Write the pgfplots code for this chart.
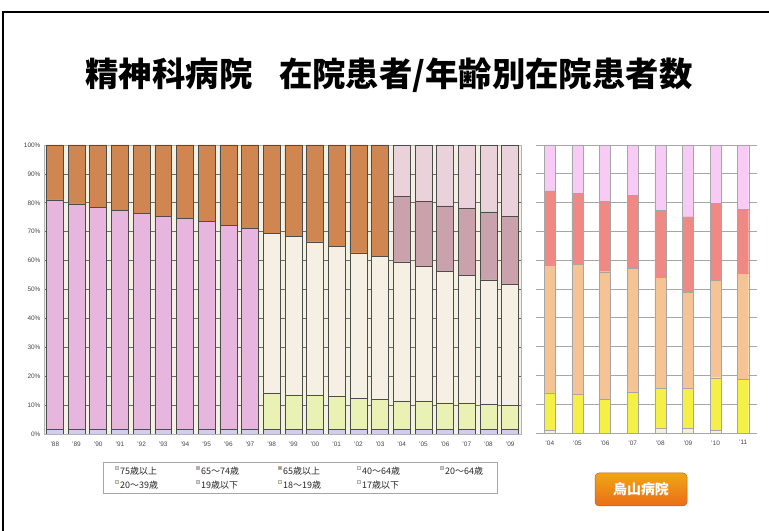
\documentclass[border=0pt]{standalone}
\usepackage{pgfplots}
\pgfplotsset{compat=1.18}
\usepackage{pgfplotstable}
\usepackage{fontspec}
\setmainfont{Liberation Sans}
\newfontfamily\jp{Noto Sans CJK JP}
\definecolor{cPink}{HTML}{E6B6DE}
\definecolor{cLav}{HTML}{D4CCEC}
\definecolor{cGreen}{HTML}{E9F2B4}
\definecolor{cCream}{HTML}{F6EFE4}
\definecolor{cOrange}{HTML}{D08650}
\definecolor{cMauve}{HTML}{C9A2AC}
\definecolor{cLPink}{HTML}{EAD2DA}
\definecolor{cBg}{HTML}{F3F1E2}
\definecolor{rStrip}{HTML}{F4F0D8}
\definecolor{rYellow}{HTML}{F4F046}
\definecolor{rPeach}{HTML}{F6C494}
\definecolor{rRed}{HTML}{F08884}
\definecolor{rPink}{HTML}{F8CAF6}
\definecolor{btn}{HTML}{E8801E}
\definecolor{tickc}{HTML}{454545}

\pgfplotstableread{
x s19 p2064 g2039 c4064 o65 m6574 l75
0 1.5 79.5 0 0 19.0 0 0
1 1.5 78.1 0 0 20.4 0 0
2 1.5 76.9 0 0 21.6 0 0
3 1.5 76.0 0 0 22.5 0 0
4 1.5 74.8 0 0 23.7 0 0
5 1.5 73.9 0 0 24.6 0 0
6 1.5 73.1 0 0 25.4 0 0
7 1.5 72.0 0 0 26.5 0 0
8 1.5 70.8 0 0 27.7 0 0
9 1.5 69.7 0 0 28.8 0 0
10 1.5 0 12.7 55.3 30.5 0 0
11 1.5 0 12.0 54.8 31.7 0 0
12 1.5 0 11.8 53.2 33.5 0 0
13 1.5 0 11.4 51.9 35.2 0 0
14 1.5 0 10.8 50.4 37.3 0 0
15 1.5 0 10.5 49.4 38.6 0 0
16 1.5 0 10.0 48.1 0 22.5 17.9
17 1.5 0 9.7 46.9 0 22.3 19.6
18 1.5 0 9.3 45.4 0 22.7 21.1
19 1.5 0 9.1 44.4 0 23.1 21.9
20 1.5 0 8.9 42.9 0 23.6 23.1
21 1.5 0 8.5 41.9 0 23.5 24.6
}\lefttable

\pgfplotstableread{
x strip yellow peach red pink
0 1.0 12.9 44.4 25.8 15.9
1 0.0 13.3 45.3 24.6 16.8
2 0.0 11.8 44.2 24.5 19.5
3 0.0 14.3 42.8 25.3 17.6
4 1.5 13.9 38.6 23.4 22.6
5 1.5 13.9 33.5 26.2 24.9
6 1.0 18.2 33.9 26.6 20.3
7 0.0 18.6 36.8 22.3 22.3
}\righttable

\begin{document}
\begin{tikzpicture}
\path[use as bounding box] (0,0) rectangle (769bp,531bp);
\draw[line width=1.3bp] (3bp,0) -- (3bp,519bp) -- (769bp,519bp);
\node[font=\jp\bfseries\fontsize{33.5}{36}\selectfont, anchor=center] at (389bp,456bp) {精神科病院\hspace{0.8em}在院患者/年齢別在院患者数};

\begin{axis}[
  at={(44bp,97bp)}, anchor=south west,
  scale only axis, width=477bp, height=289bp,
  xmin=-0.5, xmax=21.5, ymin=0, ymax=100,
  ybar stacked, bar width=0.78,
  axis background/.style={fill=cBg},
  axis line style={draw=gray!60},
  xtick={0,...,21},
  xticklabels={'88,'89,'90,'91,'92,'93,'94,'95,'96,'97,'98,'99,'00,'01,'02,'03,'04,'05,'06,'07,'08,'09},
  ytick={0,10,...,100},
  yticklabel={\pgfmathprintnumber{\tick}\%},
  /pgf/number format/assume math mode=true,
  tick label style={font=\fontsize{6.5}{7.5}\selectfont, text=tickc},
  xticklabel style={yshift=-4bp},
  major tick length=0pt,
  ymajorgrids, grid style={draw=gray!85!black, line width=0.6bp},
  every axis plot/.append style={draw=gray!60!black, line width=0.5bp},
]
\addplot[fill=cLav] table[x=x,y=s19] {\lefttable};
\addplot[fill=cPink] table[x=x,y=p2064] {\lefttable};
\addplot[fill=cGreen] table[x=x,y=g2039] {\lefttable};
\addplot[fill=cCream] table[x=x,y=c4064] {\lefttable};
\addplot[fill=cOrange] table[x=x,y=o65] {\lefttable};
\addplot[fill=cMauve] table[x=x,y=m6574] {\lefttable};
\addplot[fill=cLPink] table[x=x,y=l75] {\lefttable};
\end{axis}

\begin{axis}[
  at={(536bp,98bp)}, anchor=south west,
  scale only axis, width=221bp, height=288bp,
  xmin=-0.5, xmax=7.5, ymin=0, ymax=100,
  ybar stacked, bar width=0.4,
  axis line style={draw=none},
  xtick={0,...,7},
  xticklabels={'04,'05,'06,'07,'08,'09,'10,'11},
  ytick={0,10,...,100}, yticklabels={},
  tick label style={font=\fontsize{6.5}{7.5}\selectfont, text=tickc},
  xticklabel style={yshift=-4bp},
  major tick length=0pt,
  ymajorgrids, grid style={draw=gray!70, line width=0.7bp},
  every axis plot/.append style={draw=gray!70, line width=0.4bp},
]
\addplot[fill=rStrip] table[x=x,y=strip] {\righttable};
\addplot[fill=rYellow] table[x=x,y=yellow] {\righttable};
\addplot[fill=rPeach] table[x=x,y=peach] {\righttable};
\addplot[fill=rRed] table[x=x,y=red] {\righttable};
\addplot[fill=rPink] table[x=x,y=pink] {\righttable};
\end{axis}

% legend
\draw[gray!70, line width=0.8bp] (103bp,38bp) rectangle (497bp,69bp);
\begin{scope}[every node/.style={font=\jp\fontsize{9}{10}\selectfont, anchor=west, inner sep=0pt, text=black!85}]
\foreach \xx/\yy/\cc/\tt in {
  115/60/cLPink/75歳以上, 196/60/cMauve/65〜74歳, 278/60/cOrange/65歳以上, 357/60/cCream/40〜64歳, 440/60/cPink/20〜64歳,
  115/46/cGreen/20〜39歳, 196/46/cLav/19歳以下, 278/46/rStrip/18〜19歳, 357/46/cBg/17歳以下}{
  \fill[\cc, draw=gray!60, line width=0.3bp] (\xx bp,\yy bp+1.5bp) rectangle ++(3.5bp,3.5bp);
  \node at (\xx bp+5bp,\yy bp) {\tt};
}
\end{scope}

% button
\shade[top color=btn!70!yellow, bottom color=btn!85!red, rounded corners=4bp, draw=btn!80!black, line width=0.5bp] (595bp,25bp) rectangle (687bp,58bp);
\node[font=\jp\bfseries\fontsize{14}{16}\selectfont, text=white] at (641bp,41.5bp) {烏山病院};
\end{tikzpicture}
\end{document}
